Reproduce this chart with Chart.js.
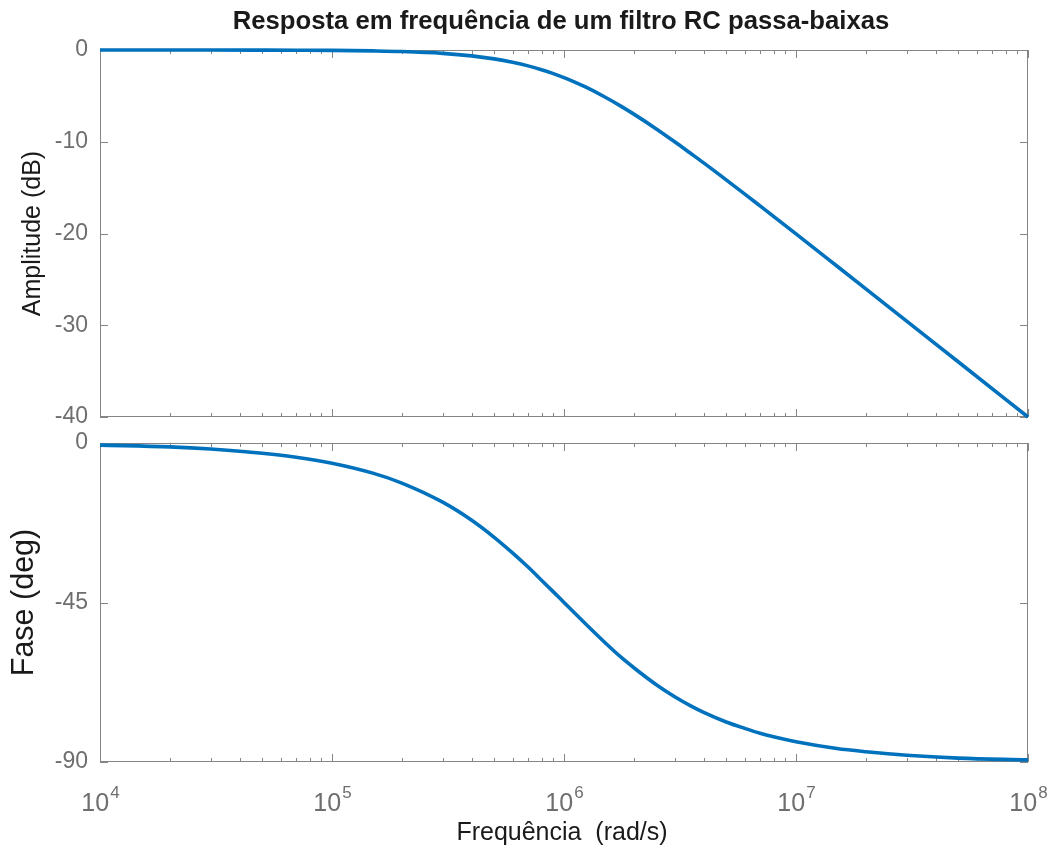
<!DOCTYPE html>
<html>
<head>
<meta charset="utf-8">
<title>Filtro RC passa-baixas</title>
<script src="https://cdn.jsdelivr.net/npm/chart.js@4.4.1/dist/chart.umd.min.js"></script>
<style>
  html, body { margin: 0; padding: 0; background: #fff; }
  #wrap { position: relative; width: 1054px; height: 850px; overflow: hidden; }
  #amp-chart { position: absolute; left: 0; top: 0; }
  #phase-chart { position: absolute; left: 0; top: 410px; }
</style>
</head>
<body>
<div id="wrap">
  <canvas id="amp-chart" width="1054" height="445"></canvas>
  <canvas id="phase-chart" width="1054" height="440"></canvas>
</div>
<script>
// frequências (rad/s) onde a curva foi lida
const freqs = [1e4, 2e4, 3e4, 5e4, 7e4, 1e5, 1.5e5, 2e5, 3e5, 4e5, 5e5, 6e5, 7e5, 8e5, 9e5,
  1e6, 1.1e6, 1.25e6, 1.5e6, 1.75e6, 2e6, 2.5e6, 3e6, 3.5e6, 4e6, 5e6, 6e6, 7e6, 8e6,
  1e7, 1.5e7, 2e7, 3e7, 5e7, 1e8];

// amplitude (dB)
const ampDb = [0, 0, 0, -0.01, -0.02, -0.04, -0.1, -0.17, -0.37, -0.64, -0.97, -1.34, -1.73, -2.15, -2.58,
  -3.01, -3.44, -4.08, -5.12, -6.09, -6.99, -8.60, -10.0, -11.23, -12.30, -14.15, -15.68, -16.99, -18.13,
  -20.04, -23.54, -26.03, -29.55, -33.98, -40.0];

// fase (graus)
const phaseDeg = [-0.6, -1.1, -1.7, -2.9, -4.0, -5.7, -8.5, -11.3, -16.7, -21.8, -26.6, -31.0, -35.0, -38.7, -42.0,
  -45.0, -47.7, -51.3, -56.3, -60.3, -63.4, -68.2, -71.6, -74.1, -76.0, -78.7, -80.5, -81.9, -82.9,
  -84.3, -86.2, -87.1, -88.1, -88.9, -89.4];

const ampTicks = [0, -10, -20, -30, -40];
const phaseTicks = [0, -45, -90];
const decadeTicks = [1e4, 1e5, 1e6, 1e7, 1e8];
const decadeExps = ["4", "5", "6", "7", "8"];

const titleText = "Resposta em frequência de um filtro RC passa-baixas";
const xTitle = "Frequência  (rad/s)";

const LINE_BLUE = "#0072BD";
const AXIS_GRAY = "#858585";
const LABEL_GRAY = "#6e6e6e";
const FONT = "'Liberation Sans', Arial, Helvetica, sans-serif";

// caixa + marcas internas (estilo MATLAB)
const framePlugin = {
  id: "frame",
  beforeDatasetsDraw(chart) {
    const { ctx, chartArea: a, scales: { x, y } } = chart;
    ctx.save();
    ctx.strokeStyle = AXIS_GRAY;
    ctx.lineWidth = 1;
    ctx.strokeRect(a.left + 0.5, a.top + 0.5, a.width - 1, a.height - 1);

    ctx.beginPath();
    for (let n = 4; n <= 8; n++) {
      for (let k = 1; k <= 9; k++) {
        const v = k * Math.pow(10, n);
        if (v > x.max) break;
        const px = Math.round(x.getPixelForValue(v)) + 0.5;
        const len = k === 1 ? 8 : 4;
        ctx.moveTo(px, a.bottom);
        ctx.lineTo(px, a.bottom - len);
        ctx.moveTo(px, a.top);
        ctx.lineTo(px, a.top + len);
      }
    }
    y.ticks.forEach(t => {
      const py = Math.round(y.getPixelForValue(t.value)) + 0.5;
      ctx.moveTo(a.left, py);
      ctx.lineTo(a.left + 8, py);
      ctx.moveTo(a.right, py);
      ctx.lineTo(a.right - 8, py);
    });
    ctx.stroke();
    ctx.restore();
  },
  afterDraw(chart, args, opts) {
    const { ctx, chartArea: a, scales: { x } } = chart;
    ctx.save();
    ctx.fillStyle = "#1a1a1a";

    if (opts.title) {
      ctx.font = "bold 25.7px " + FONT;
      ctx.textAlign = "center";
      ctx.textBaseline = "middle";
      ctx.fillText(opts.title, 561, 22);
    }

    // título do eixo y, rodado
    ctx.save();
    ctx.translate(opts.yTitleX, (a.top + a.bottom) / 2);
    ctx.rotate(-Math.PI / 2);
    ctx.font = opts.yTitleSize + "px " + FONT;
    ctx.textAlign = "center";
    ctx.textBaseline = "middle";
    ctx.fillText(opts.yTitle, 0, 0);
    ctx.restore();

    if (opts.xAxis) {
      // rótulos 10^n
      ctx.fillStyle = LABEL_GRAY;
      ctx.textBaseline = "alphabetic";
      ctx.textAlign = "left";
      decadeTicks.forEach((v, i) => {
        ctx.font = "25px " + FONT;
        const wBase = ctx.measureText("10").width;
        ctx.font = "17px " + FONT;
        const wExp = ctx.measureText(decadeExps[i]).width;
        const px = x.getPixelForValue(v);
        const x0 = px - (wBase + wExp) / 2;
        ctx.font = "25px " + FONT;
        ctx.fillText("10", x0, a.bottom + 49);
        ctx.font = "17px " + FONT;
        ctx.fillText(decadeExps[i], x0 + wBase + 1, a.bottom + 36);
      });

      ctx.fillStyle = "#1a1a1a";
      ctx.font = "25px " + FONT;
      ctx.textAlign = "center";
      ctx.textBaseline = "middle";
      ctx.fillText(opts.xTitle, 562, a.bottom + 71);
    }
    ctx.restore();
  }
};

function makeChart(canvasId, values, ticks, pad, plugOpts) {
  const min = Math.min(...ticks);
  const max = Math.max(...ticks);
  return new Chart(document.getElementById(canvasId), {
    type: "line",
    data: {
      datasets: [{
        data: freqs.map((f, i) => ({ x: f, y: values[i] })),
        borderColor: LINE_BLUE,
        borderWidth: 3.6,
        pointRadius: 0,
        cubicInterpolationMode: "monotone",
        clip: 6,
        fill: false,
      }],
    },
    options: {
      responsive: false,
      animation: false,
      events: [],
      layout: { padding: pad },
      plugins: {
        legend: { display: false },
        tooltip: { enabled: false },
        frame: plugOpts,
      },
      scales: {
        x: {
          type: "logarithmic",
          min: 1e4,
          max: 1e8,
          display: false,
        },
        y: {
          min,
          max,
          afterBuildTicks: s => { s.ticks = ticks.map(v => ({ value: v })); },
          afterFit: s => { s.width = 100; },
          grid: { display: false, drawTicks: false, tickLength: 0 },
          border: { display: false },
          ticks: {
            padding: 12,
            color: LABEL_GRAY,
            font: { family: FONT, size: 23 },
            callback: v => String(v),
          },
        },
      },
    },
    plugins: [framePlugin],
  });
}

makeChart("amp-chart", ampDb, ampTicks,
  { left: 0, right: 26, top: 50, bottom: 28 },
  { title: titleText, yTitle: "Amplitude (dB)", yTitleX: 33, yTitleSize: 25 });

makeChart("phase-chart", phaseDeg, phaseTicks,
  { left: 0, right: 26, top: 33, bottom: 88 },
  { yTitle: "Fase (deg)", yTitleX: 25, yTitleSize: 30.5, xAxis: true, xTitle });
</script>
</body>
</html>
